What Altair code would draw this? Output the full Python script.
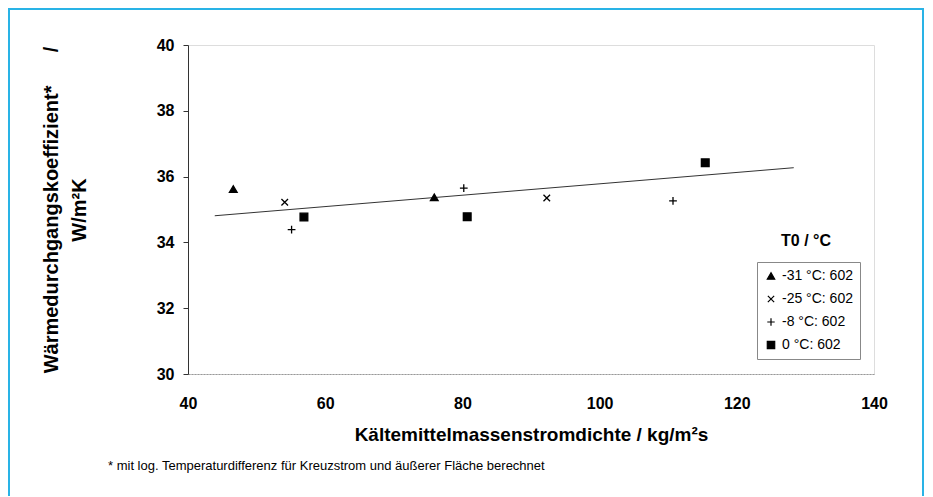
import altair as alt
import pandas as pd

# ---- data ----
series = ["-31 °C: 602", "-25 °C: 602", "\u00a0-8 °C: 602", "\u00a0\u00a00 °C: 602"]
x_tri = [46.6, 75.9]
y_tri = [35.62, 35.37]
x_x = [54.1, 92.3]
y_x = [35.22, 35.35]
x_plus = [55.1, 80.2, 110.7]
y_plus = [34.39, 35.65, 35.26]
x_sq = [56.9, 80.7, 115.4]
y_sq = [34.77, 34.78, 36.42]
trend_x = [43.9, 128.3]
trend_y = [34.81, 36.27]

rows = []
for name, xs, ys in zip(series, [x_tri, x_x, x_plus, x_sq], [y_tri, y_x, y_plus, y_sq]):
    for a, b in zip(xs, ys):
        rows.append({"G": a, "k": b, "T0": name})
pts = pd.DataFrame(rows)
trend = pd.DataFrame({"G": trend_x, "k": trend_y})

FONT = "Liberation Sans, Arial"
W, H = 686, 329

xscale = alt.Scale(domain=[40, 140], nice=False, zero=False)
yscale = alt.Scale(domain=[30, 40], nice=False, zero=False)

shapes = [
    "triangle-up",
    "M-0.85,-0.85L0.85,0.85M-0.85,0.85L0.85,-0.85",
    "M-1,0L1,0M0,-1L0,1",
    "square",
]
fills = ["black", "transparent", "transparent", "black"]
strokes = ["black", "black", "black", "black"]

points = alt.Chart(pts).mark_point(strokeWidth=1.3, opacity=1, size=60).encode(
    x=alt.X("G:Q", scale=xscale,
            axis=alt.Axis(values=[40, 60, 80, 100, 120, 140], title="Kältemittelmassenstromdichte / kg/m²s",
                          grid=False, ticks=False, domainColor="#999", domainDash=[2, 1],
                          labelFlush=False,
                          labelFont=FONT, labelFontSize=16, labelFontWeight="bold", labelColor="black",
                          labelPadding=21, titleFont=FONT, titleFontSize=19, titleFontWeight="bold",
                          titleColor="black", titlePadding=14)),
    y=alt.Y("k:Q", scale=yscale,
            axis=alt.Axis(values=[30, 32, 34, 36, 38, 40],
                          title=["Wärmedurchgangskoeffizient*\u00a0\u00a0\u00a0\u00a0\u00a0\u00a0/", "W/m²K"],
                          grid=False, tickSize=5, tickColor="#333", domainColor="#333",
                          labelFont=FONT, labelFontSize=16, labelFontWeight="bold", labelColor="black",
                          labelPadding=9, titleFont=FONT, titleFontSize=20, titleFontWeight="bold",
                          titleColor="black", titlePadding=67, titleLineHeight=28)),
    shape=alt.Shape("T0:N", sort=series, scale=alt.Scale(domain=series, range=shapes),
                    legend=alt.Legend(title=None, orient="none", legendX=569, legendY=217,
                                      strokeColor="#888", padding=7, rowPadding=9,
                                      labelFont=FONT, labelFontSize=14,
                                      labelColor="black", symbolSize=55, symbolStrokeColor="black",
                                      symbolStrokeWidth=1.2, labelOffset=4, fillColor="white")),
    fill=alt.Fill("T0:N", sort=series, scale=alt.Scale(domain=series, range=fills), legend=None),
    stroke=alt.Stroke("T0:N", sort=series, scale=alt.Scale(domain=series, range=strokes), legend=None),
)

line = alt.Chart(trend).mark_line(color="#333", strokeWidth=1).encode(
    x=alt.X("G:Q", scale=xscale), y=alt.Y("k:Q", scale=yscale)
)

legend_title = alt.Chart(pd.DataFrame({"t": ["T0 / °C"]})).mark_text(
    font=FONT, fontSize=16, fontWeight="bold", color="black", align="center"
).encode(text="t:N", x=alt.value(618), y=alt.value(196))

footnote = alt.Chart(pd.DataFrame({"t": ["* mit log. Temperaturdifferenz für Kreuzstrom und äußerer Fläche berechnet"]})).mark_text(
    font=FONT, fontSize=13, color="black", align="left"
).encode(text="t:N", x=alt.value(-80), y=alt.value(421))

frame = alt.Chart(pd.DataFrame({"a": [0]})).mark_rect(
    filled=False, stroke="#29b3e6", strokeWidth=2
).encode(x=alt.value(-179), x2=alt.value(735), y=alt.value(-36), y2=alt.value(520))

chart = alt.layer(frame, line, points, legend_title, footnote).properties(
    width=W, height=H,
    padding={"left": 180, "top": 37, "right": 51, "bottom": 122},
    autosize=alt.AutoSizeParams(type="none"),
).configure_view(stroke="#999", strokeDash=[2, 1], strokeWidth=1).configure(background="white")

chart.save("out.html", embed_options={"renderer": "svg", "actions": False})
